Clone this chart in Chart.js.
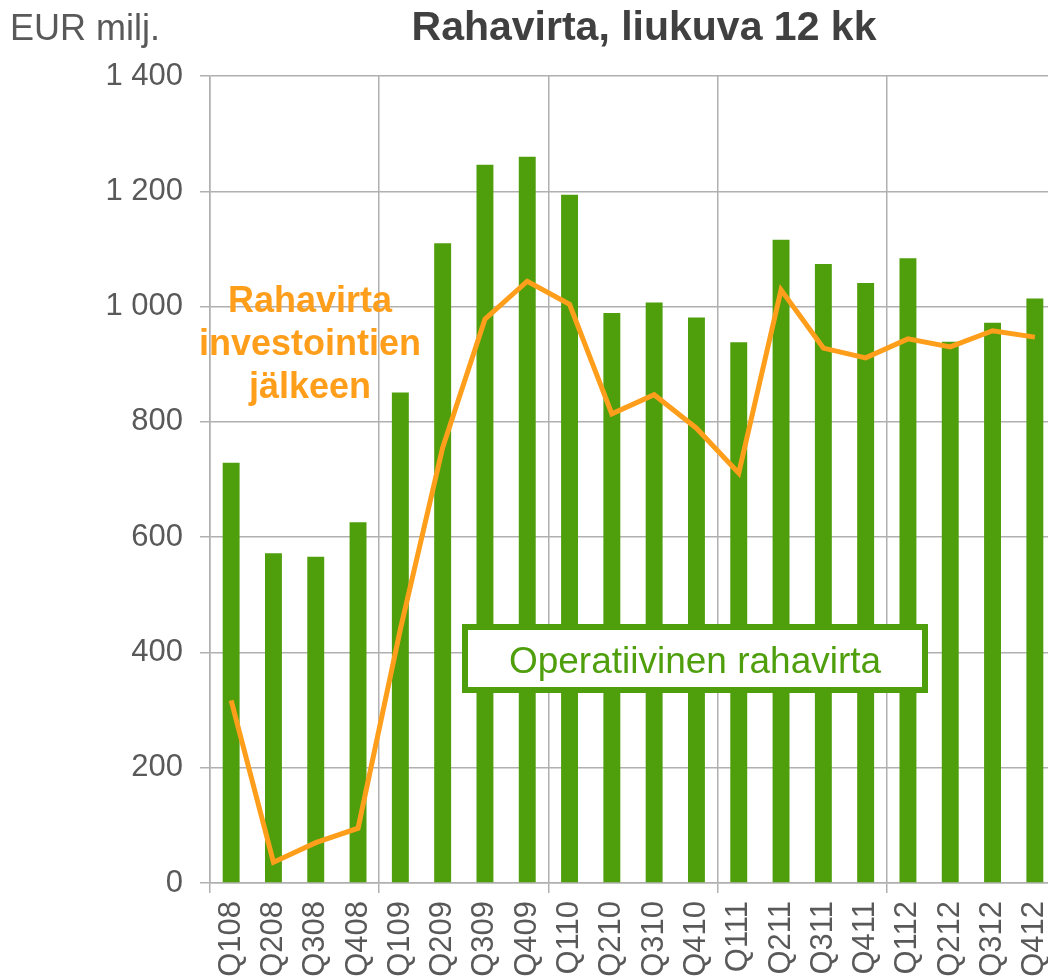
<!DOCTYPE html>
<html lang="fi">

<head>
    <meta charset="UTF-8">
    <title>Rahavirta, liukuva 12 kk</title>
    <script src="https://cdn.jsdelivr.net/npm/chart.js"></script>
    <style>
        html, body { margin: 0; padding: 0; overflow: hidden; background: #ffffff; }
        canvas { display: block; }
    </style>
</head>

<body>
    <canvas id="rahavirta" width="1058" height="980"></canvas>
</body>

</html>
<script>
    // neljännekset
    var kvartaalit = ['Q108', 'Q208', 'Q308', 'Q408', 'Q109', 'Q209', 'Q309', 'Q409', 'Q110', 'Q210',
        'Q310', 'Q410', 'Q111', 'Q211', 'Q311', 'Q411', 'Q112', 'Q212', 'Q312', 'Q412'];

    // EUR milj., liukuva 12 kk
    var operatiivinen = [729, 572, 566, 626, 851, 1110, 1246, 1260, 1194, 989,
        1007, 981, 938, 1116, 1074, 1041, 1084, 939, 972, 1014];
    var investointienJalkeen = [317, 36, 70, 95, 440, 755, 978, 1044, 1004, 814,
        847, 789, 711, 1029, 928, 911, 944, 930, 958, 947];

    var yTicks = [0, 200, 400, 600, 800, 1000, 1200, 1400];

    var vihrea = '#4f9e0c';
    var oranssi = '#ff9e1b';
    var harmaa = '#b0b0b0';
    var fontti = "'Liberation Sans', Arial, sans-serif";

    function muotoile(v) {
        if (v >= 1000) {
            return Math.floor(v / 1000) + ' ' + String(v % 1000).padStart(3, '0');
        }
        return String(v);
    }

    var tekstit = {
        id: 'tekstit',
        afterDatasetsDraw: function (chart) {
            var ctx = chart.ctx;
            ctx.save();

            // oranssi selite
            ctx.fillStyle = oranssi;
            ctx.font = 'bold 36px ' + fontti;
            ctx.textAlign = 'center';
            ctx.textBaseline = 'alphabetic';
            ctx.fillText('Rahavirta', 310, 312);
            ctx.fillText('investointien', 310, 355);
            ctx.fillText('jälkeen', 310, 398);

            // vihreä laatikko
            ctx.fillStyle = '#ffffff';
            ctx.fillRect(465, 627, 460, 63);
            ctx.strokeStyle = vihrea;
            ctx.lineWidth = 6;
            ctx.strokeRect(465, 627, 460, 63);
            ctx.fillStyle = vihrea;
            ctx.font = '37px ' + fontti;
            ctx.fillText('Operatiivinen rahavirta', 695, 673);

            // otsikot
            ctx.fillStyle = '#595959';
            ctx.font = '36px ' + fontti;
            ctx.textAlign = 'left';
            ctx.fillText('EUR milj.', 10, 40);
            ctx.fillStyle = '#404040';
            ctx.font = 'bold 41px ' + fontti;
            ctx.textAlign = 'center';
            ctx.fillText('Rahavirta, liukuva 12 kk', 644, 40);

            ctx.restore();
        }
    };

    new Chart(document.getElementById('rahavirta'), {
        type: 'bar',
        data: {
            labels: kvartaalit,
            datasets: [{
                type: 'line',
                label: 'Rahavirta investointien jälkeen',
                data: investointienJalkeen,
                borderColor: oranssi,
                backgroundColor: oranssi,
                borderWidth: 5,
                pointRadius: 0,
                tension: 0,
                order: 0
            }, {
                type: 'bar',
                label: 'Operatiivinen rahavirta',
                data: operatiivinen,
                backgroundColor: vihrea,
                barPercentage: 0.4,
                categoryPercentage: 1,
                order: 1
            }]
        },
        options: {
            responsive: false,
            animation: false,
            devicePixelRatio: 1,
            layout: {
                padding: { top: 76, right: 2, left: 0, bottom: 0 }
            },
            scales: {
                x: {
                    offset: true,
                    afterFit: function (scale) {
                        scale.height = 97;
                        scale.paddingLeft = 0;
                        scale.paddingRight = 0;
                    },
                    grid: {
                        offset: true,
                        lineWidth: 1.5,
                        tickLength: 10,
                        color: function (c) {
                            return c.index % 4 === 0 ? harmaa : 'rgba(0,0,0,0)';
                        }
                    },
                    border: { color: harmaa, width: 1.5 },
                    ticks: {
                        minRotation: 90,
                        maxRotation: 90,
                        autoSkip: false,
                        padding: 8,
                        color: '#595959',
                        font: { family: fontti, size: 31 }
                    }
                },
                y: {
                    min: 0,
                    max: 1400,
                    afterFit: function (scale) { scale.width = 210; },
                    afterBuildTicks: function (scale) {
                        scale.ticks = yTicks.map(function (v) { return { value: v }; });
                    },
                    grid: {
                        color: harmaa,
                        lineWidth: 1.5,
                        tickLength: 10
                    },
                    border: { color: harmaa, width: 1.5 },
                    ticks: {
                        padding: 17,
                        color: '#595959',
                        font: { family: fontti, size: 31 },
                        callback: function (v) { return muotoile(v); }
                    }
                }
            },
            plugins: {
                legend: { display: false },
                tooltip: { enabled: false },
                title: { display: false }
            }
        },
        plugins: [tekstit]
    });
</script>
